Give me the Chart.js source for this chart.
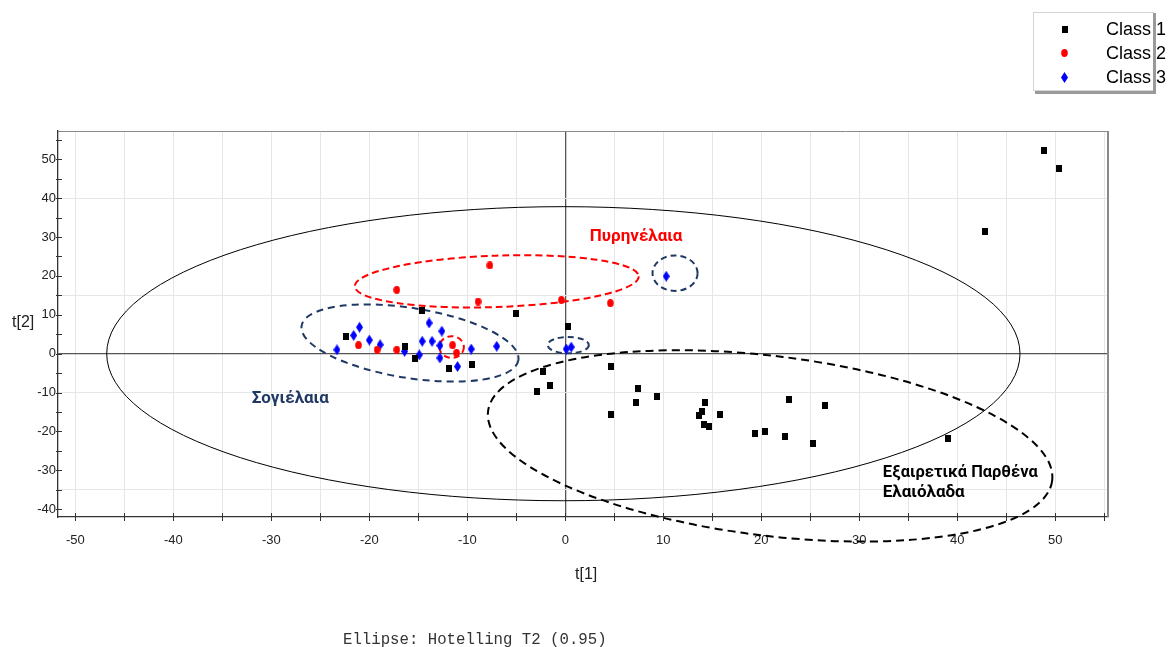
<!DOCTYPE html>
<html>
<head>
<meta charset="utf-8">
<title>t[1] / t[2]</title>
<script src="https://cdn.jsdelivr.net/npm/chart.js@4.4.1/dist/chart.umd.min.js"></script>
<style>
    html, body { margin: 0; padding: 0; background: #fff; }
    #wrap { width: 1171px; height: 647px; }
</style>
</head>
<body>
<div id="wrap"><canvas id="chart-scores" width="1171" height="647"></canvas></div>
<script>
// Scores per class: t[1] and t[2]
const class1T1 = [48.8, 50.4, 42.8, -5.0, 0.3, -14.6, -22.4, -16.4, -15.3, -11.9, -9.5, -2.3, -1.6, -2.9, 4.7, 7.4,
    7.2, 4.7, 9.4, 14.3, 13.9, 13.6, 14.2, 14.7, 15.8, 19.4, 20.4, 22.4, 22.8, 25.3, 26.5, 39.1];
const class1T2 = [52.2, 47.6, 31.4, 10.3, 7.0, 11.0, 4.4, 1.9, -1.3, -3.9, -2.8, -4.5, -8.1, -9.8, -3.2, -9.0,
    -12.5, -15.6, -11.0, -12.5, -14.9, -16.0, -18.2, -18.8, -15.6, -20.4, -19.9, -21.4, -11.8, -23.0, -13.4, -21.9];

const class2T1 = [-7.7, -17.2, -8.9, -0.4, 4.6, -21.1, -19.2, -17.2, -11.5, -11.1];
const class2T2 = [22.7, 16.4, 13.4, 13.8, 13.0, 2.2, 1.0, 1.0, 2.2, 0.2];

const class3T1 = [-23.3, -21.6, -21.0, -20.0, -18.9, -16.4, -14.9, -14.6, -13.9, -13.6, -12.6, -12.8, -12.8, -11.0,
    -9.6, -7.0, 10.3, 0.1, 0.6];
const class3T2 = [1.0, 4.7, 6.8, 3.5, 2.3, 0.6, -0.3, 3.2, 7.9, 3.2, 5.8, 2.1, -1.1, -3.3, 1.2, 1.9, 19.9, 1.2, 1.7];

const classLabels = ['Class 1', 'Class 2', 'Class 3'];

// Axis ticks (labels on multiples of 10) and the horizontal grid rows
const ticksT1 = [-50, -45, -40, -35, -30, -25, -20, -15, -10, -5, 0, 5, 10, 15, 20, 25, 30, 35, 40, 45, 50, 55];
const ticksT2 = [-40, -35, -30, -25, -20, -15, -10, -5, 0, 5, 10, 15, 20, 25, 30, 35, 40, 45, 50, 55];
const gridT2 = [40, 15, -10, -35];

// Group ellipses in score units (rot = degrees on screen)
const groupEllipses = [
    { cx: -0.2, cy: 0, rx: 46.6, ry: 37.8, rot: 0, color: '#000000', width: 1, dash: [] },
    { cx: 20.9, cy: -23.7, rx: 29.0, ry: 23.1, rot: 7, color: '#000000', width: 2, dash: [8, 5] },
    { cx: -7.0, cy: 18.6, rx: 14.5, ry: 6.6, rot: -2, color: '#ff0000', width: 2, dash: [7, 4] },
    { cx: -15.85, cy: 2.75, rx: 11.2, ry: 9.0, rot: 9, color: '#1f3864', width: 2, dash: [7, 5] },
    { cx: -11.6, cy: 1.7, rx: 1.25, ry: 2.8, rot: 0, color: '#ff0000', width: 2, dash: [6, 4] },
    { cx: 0.3, cy: 2.2, rx: 2.1, ry: 2.1, rot: 0, color: '#1f3864', width: 2, dash: [6, 4] },
    { cx: 11.2, cy: 20.7, rx: 2.3, ry: 4.55, rot: 0, color: '#1f3864', width: 2, dash: [6, 4] }
];

const groupNotes = [
    { text: 'Πυρηνέλαια', x: 2.5, y: 28.9, color: '#ff0000', maxW: 96 },
    { text: 'Σογιέλαια', x: -32.0, y: -12.75, color: '#1f3864', maxW: 82 },
    { text: 'Εξαιρετικά Παρθένα', x: 32.4, y: -31.7, color: '#000000', maxW: 155 },
    { text: 'Ελαιόλαδα', x: 32.4, y: -36.8, color: '#000000', maxW: 86 }
];

const toPoints = (xs, ys) => xs.map((x, i) => ({ x: x, y: ys[i] }));

// Marker sprites
const makeMarker = (w, h, paint) => {
    const c = document.createElement('canvas');
    c.width = w;
    c.height = h;
    paint(c.getContext('2d'));
    return c;
};
const squareMarker = makeMarker(6, 7, g => { g.fillStyle = '#000'; g.fillRect(0, 0, 6, 7); });
const dotMarker = makeMarker(7, 8, g => {
    g.fillStyle = '#ff0000';
    g.beginPath(); g.ellipse(3.5, 4, 3.3, 3.9, 0, 0, Math.PI * 2); g.fill();
});
const diamondMarker = makeMarker(7, 11, g => {
    g.fillStyle = '#0000ff';
    g.beginPath(); g.moveTo(3.5, 0); g.lineTo(7, 5.5); g.lineTo(3.5, 11); g.lineTo(0, 5.5); g.closePath(); g.fill();
});

const overlayPlugin = {
    id: 'scoreOverlay',
    beforeDatasetsDraw: (chart) => {
        const { ctx, scales: { x, y } } = chart;
        ctx.save();
        groupEllipses.forEach(e => {
            const px = x.getPixelForValue(e.cx);
            const py = y.getPixelForValue(e.cy);
            const rxp = x.getPixelForValue(e.cx + e.rx) - px;
            const ryp = py - y.getPixelForValue(e.cy + e.ry);
            ctx.beginPath();
            ctx.setLineDash(e.dash);
            ctx.lineWidth = e.width;
            ctx.strokeStyle = e.color;
            ctx.ellipse(px, py, rxp, ryp, e.rot * Math.PI / 180, 0, Math.PI * 2);
            ctx.stroke();
        });
        ctx.setLineDash([]);
        ctx.font = 'bold 17px Roboto, "Open Sans", sans-serif';
        ctx.textBaseline = 'alphabetic';
        ctx.textAlign = 'left';
        groupNotes.forEach(n => {
            ctx.fillStyle = n.color;
            ctx.fillText(n.text, x.getPixelForValue(n.x), y.getPixelForValue(n.y), n.maxW);
        });
        ctx.restore();
    },
    afterDraw: (chart) => {
        const { ctx, chartArea: a, scales: { x, y } } = chart;
        ctx.save();

        // frame on top and right
        ctx.strokeStyle = '#8a8a8a';
        ctx.lineWidth = 1;
        ctx.beginPath();
        ctx.moveTo(a.left, a.top + 0.5);
        ctx.lineTo(a.right, a.top + 0.5);
        ctx.stroke();
        ctx.lineWidth = 2;
        ctx.beginPath();
        ctx.moveTo(a.right, a.top);
        ctx.lineTo(a.right, a.bottom);
        ctx.stroke();

        // tick marks crossing both axes
        ctx.strokeStyle = '#333';
        ctx.lineWidth = 1;
        ticksT1.forEach(v => {
            const px = Math.round(x.getPixelForValue(v)) + 0.5;
            ctx.beginPath();
            ctx.moveTo(px, a.bottom - 4);
            ctx.lineTo(px, a.bottom + 4);
            ctx.stroke();
        });
        ticksT2.forEach(v => {
            const py = Math.round(y.getPixelForValue(v)) + 0.5;
            ctx.beginPath();
            ctx.moveTo(a.left - 2, py);
            ctx.lineTo(a.left + 4, py);
            ctx.stroke();
        });

        // axis titles
        ctx.fillStyle = '#222';
        ctx.font = '16px "Liberation Sans", Arial, sans-serif';
        ctx.textBaseline = 'middle';
        ctx.textAlign = 'left';
        ctx.fillText('t[1]', 575, 575);
        ctx.fillText('t[2]', 12, 323);

        // footnote
        ctx.fillStyle = '#333';
        ctx.font = '15.7px "Liberation Mono", "Courier New", monospace';
        ctx.textBaseline = 'alphabetic';
        ctx.fillText('Ellipse: Hotelling T2 (0.95)', 343, 644);

        // legend box with drop shadow
        ctx.fillStyle = '#fff';
        ctx.fillRect(1033, 12, 121, 79);
        ctx.strokeStyle = '#d4d4d4';
        ctx.lineWidth = 1;
        ctx.strokeRect(1033.5, 12.5, 120, 78);
        ctx.fillStyle = '#9a9a9a';
        ctx.fillRect(1153, 13, 3, 81);
        ctx.fillRect(1035, 91, 121, 3);

        ctx.font = '18px "Liberation Sans", Arial, sans-serif';
        ctx.textBaseline = 'middle';
        ctx.fillStyle = '#000';
        chart.data.datasets.forEach((ds, i) => {
            const my = 29 + i * 24;
            const m = ds.pointStyle;
            ctx.drawImage(m, Math.round(1064.5 - m.width / 2), Math.round(my - m.height / 2));
            ctx.fillText(ds.label, 1106, my + 1);
        });
        ctx.restore();
    }
};

const axisGridColor = (ctx, rows) => {
    const v = ctx.tick.value;
    if (v === 0) return '#555555';
    if (!rows || rows.includes(v)) return '#e6e6e6';
    return 'rgba(0,0,0,0)';
};

new Chart(document.getElementById('chart-scores'), {
    type: 'scatter',
    data: {
        datasets: [
            { label: classLabels[0], data: toPoints(class1T1, class1T2), pointStyle: squareMarker, pointRadius: 4 },
            { label: classLabels[1], data: toPoints(class2T1, class2T2), pointStyle: dotMarker, pointRadius: 4 },
            { label: classLabels[2], data: toPoints(class3T1, class3T2), pointStyle: diamondMarker, pointRadius: 4 }
        ]
    },
    options: {
        responsive: false,
        animation: false,
        devicePixelRatio: 1,
        layout: { padding: { left: 0, top: 131, right: 63, bottom: 100 } },
        plugins: {
            legend: { display: false },
            tooltip: { enabled: false }
        },
        scales: {
            x: {
                type: 'linear',
                min: -51.77,
                max: 55.38,
                afterFit: s => { s.height = 30; },
                afterBuildTicks: s => { s.ticks = ticksT1.map(v => ({ value: v })); },
                grid: {
                    drawTicks: false,
                    color: ctx => axisGridColor(ctx, null),
                    lineWidth: ctx => (ctx.tick.value === 0 ? 1.3 : 1)
                },
                border: { color: '#333', width: 1.3 },
                ticks: {
                    autoSkip: false,
                    maxRotation: 0,
                    padding: 16,
                    color: '#222',
                    font: { family: '"Liberation Sans", Arial, sans-serif', size: 13 },
                    callback: v => (v % 10 === 0 ? v : '')
                }
            },
            y: {
                type: 'linear',
                min: -41.98,
                max: 57.25,
                afterFit: s => { s.width = 58; },
                afterBuildTicks: s => { s.ticks = ticksT2.map(v => ({ value: v })); },
                grid: {
                    drawTicks: false,
                    color: ctx => axisGridColor(ctx, gridT2),
                    lineWidth: ctx => (ctx.tick.value === 0 ? 1.3 : 1)
                },
                border: { color: '#333', width: 1.3 },
                ticks: {
                    autoSkip: false,
                    padding: 2,
                    color: '#222',
                    font: { family: '"Liberation Sans", Arial, sans-serif', size: 13 },
                    callback: v => (v % 10 === 0 ? v : '')
                }
            }
        }
    },
    plugins: [overlayPlugin]
});
</script>
</body>
</html>
